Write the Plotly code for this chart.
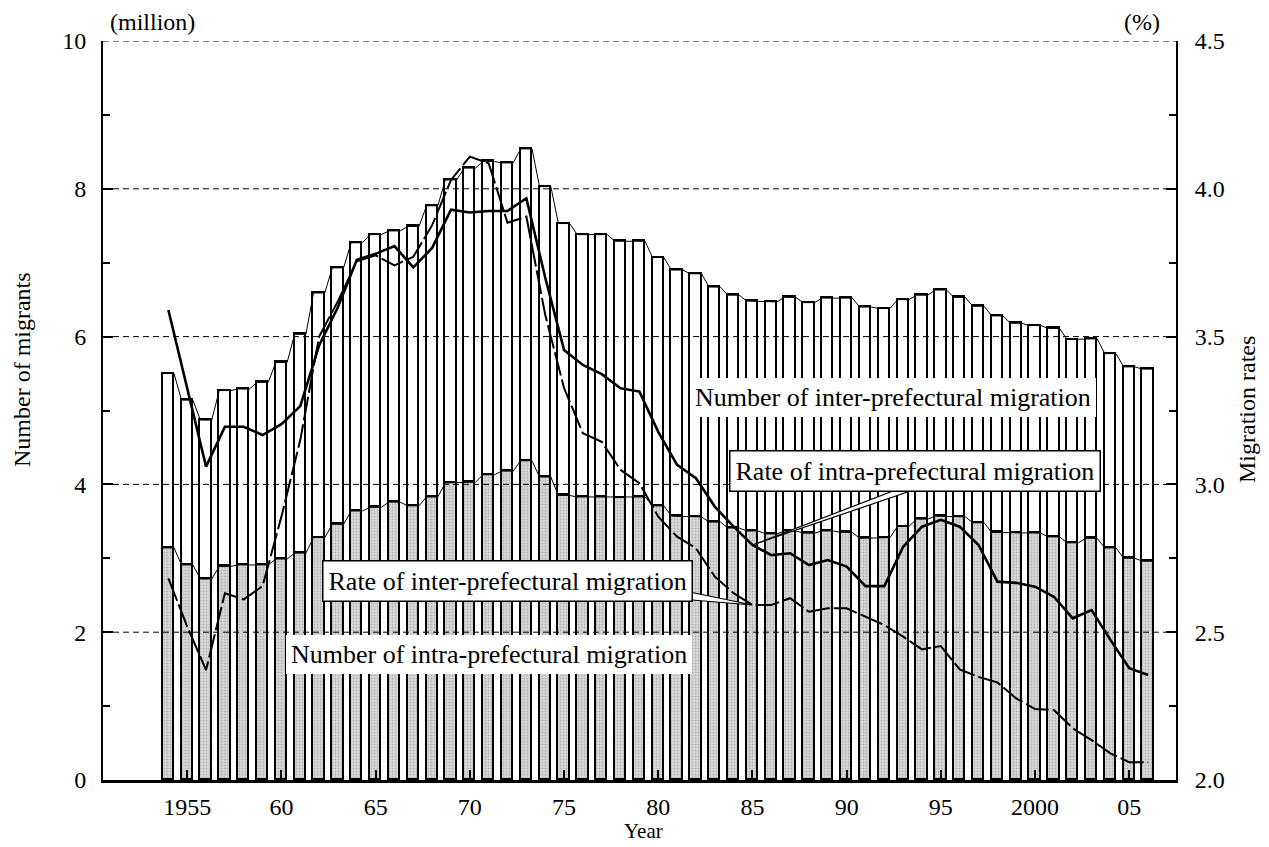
import plotly.graph_objects as go

# ---------------- data ----------------
years = list(range(1954, 2007))

# number of intra-prefectural migrants (million) - grey lower bars
intra_migrants = [3.14, 2.91, 2.72, 2.89, 2.91, 2.91, 2.99, 3.07, 3.28, 3.46,
                  3.64, 3.69, 3.76, 3.71, 3.83, 4.02, 4.03, 4.13, 4.18, 4.32,
                  4.10, 3.85, 3.83, 3.83, 3.82, 3.83, 3.71, 3.57, 3.56, 3.49,
                  3.41, 3.37, 3.33, 3.37, 3.34, 3.37, 3.35, 3.27, 3.28, 3.43,
                  3.53, 3.57, 3.56, 3.48, 3.35, 3.34, 3.34, 3.29, 3.21, 3.27,
                  3.14, 3.00, 2.96]

# number of inter-prefectural migrants (million) - white upper bars
inter_migrants = [2.36, 2.23, 2.15, 2.38, 2.38, 2.47, 2.66, 2.96, 3.31, 3.47,
                  3.63, 3.69, 3.67, 3.78, 3.94, 4.10, 4.25, 4.24, 4.17, 4.22,
                  3.93, 3.68, 3.55, 3.55, 3.47, 3.46, 3.36, 3.33, 3.29, 3.18,
                  3.15, 3.11, 3.14, 3.16, 3.12, 3.15, 3.17, 3.13, 3.10, 3.07,
                  3.03, 3.06, 2.97, 2.93, 2.93, 2.84, 2.81, 2.82, 2.75, 2.70,
                  2.63, 2.59, 2.60]

# rate of intra-prefectural migration (%) - solid line
intra_rate = [3.59, 3.33, 3.06, 3.195, 3.195, 3.167, 3.204, 3.265, 3.47, 3.60,
              3.76, 3.78, 3.806, 3.734, 3.80, 3.929, 3.92, 3.925, 3.925, 3.968,
              3.70, 3.455, 3.404, 3.373, 3.325, 3.314, 3.178, 3.066, 3.021, 2.925,
              2.857, 2.795, 2.761, 2.767, 2.727, 2.744, 2.722, 2.656, 2.656, 2.789,
              2.857, 2.880, 2.857, 2.795, 2.671, 2.667, 2.654, 2.62, 2.547, 2.575,
              2.474, 2.378, 2.355]

# rate of inter-prefectural migration (%) - dashed line
inter_rate = [2.682, 2.519, 2.372, 2.632, 2.611, 2.656, 2.891, 3.150, 3.50, 3.62,
              3.755, 3.775, 3.741, 3.77, 3.877, 4.03, 4.109, 4.086, 3.885, 3.906,
              3.574, 3.326, 3.173, 3.144, 3.049, 3.004, 2.891, 2.823, 2.784, 2.688,
              2.632, 2.592, 2.592, 2.615, 2.569, 2.581, 2.581, 2.553, 2.524, 2.485,
              2.442, 2.453, 2.374, 2.349, 2.33, 2.276, 2.240, 2.237, 2.175, 2.135,
              2.09, 2.06, 2.06]

x_tickvals = [1955, 1960, 1965, 1970, 1975, 1980, 1985, 1990, 1995, 2000, 2005]
x_ticktext = ["1955", "60", "65", "70", "75", "80", "85", "90", "95", "2000", "05"]
y_tickvals = [0, 2, 4, 6, 8, 10]
y2_tickvals = [2.0, 2.5, 3.0, 3.5, 4.0, 4.5]

# ---------------- layout constants ----------------
PAGE_OFF = 8                      # default body margin of the html page
W, H = 1269 - PAGE_OFF, 847 - PAGE_OFF
L, R, T, B = 103, 1176, 41, 780   # plot area in window pixels
XR = [1950.53, 2007.48]
YR = [0, 10]
Y2R = [2.0, 4.5]
BAR_W = 0.6
FONT = "Liberation Serif"


def px2x(px):
    return XR[0] + (px - L) / (R - L) * (XR[1] - XR[0])


def py2y2(py):
    return Y2R[0] + (B - py) / (B - T) * (Y2R[1] - Y2R[0])


def pxp(px):
    return (px - L) / (R - L)


def pyp(py):
    return (B - py) / (B - T)


fig = go.Figure()

fig.add_trace(go.Bar(
    x=years, y=intra_migrants, width=BAR_W, name="intra",
    marker=dict(color="#c9c9c9", line=dict(color="black", width=1.8),
                pattern=dict(shape=".", fgcolor="#8a8a8a", bgcolor="#d9d9d9",
                             size=3, solidity=0.3)),
    showlegend=False))
fig.add_trace(go.Bar(
    x=years, y=inter_migrants, width=BAR_W, name="inter",
    marker=dict(color="white", line=dict(color="black", width=1.8)),
    showlegend=False))

# thin "series lines" joining the bar tops
totals = [a + b for a, b in zip(intra_migrants, inter_migrants)]
for series in (intra_migrants, totals):
    sx, sy = [], []
    for yr, v in zip(years, series):
        sx += [yr - BAR_W / 2, yr + BAR_W / 2]
        sy += [v, v]
    fig.add_trace(go.Scatter(x=sx, y=sy, mode="lines",
                             line=dict(color="black", width=1),
                             hoverinfo="skip", showlegend=False))

fig.add_trace(go.Scatter(x=years, y=intra_rate, yaxis="y2", mode="lines",
                         line=dict(color="black", width=2.6), showlegend=False))
fig.add_trace(go.Scatter(x=years, y=inter_rate, yaxis="y2", mode="lines",
                         line=dict(color="black", width=2, dash="24px,4px"),
                         showlegend=False))

shapes = []
for v in [2, 4, 6, 8, 10]:
    shapes.append(dict(type="line", xref="paper", x0=0, x1=1, yref="y", y0=v, y1=v,
                       line=dict(color="black", width=1, dash="6px,4px"), layer="above"))

# callout wedges
i85 = years.index(1985)
tx, ty = 1985, intra_rate[i85]
bx1, bx2, by = px2x(906), px2x(925), py2y2(486)
shapes.append(dict(type="path", xref="x", yref="y2",
                   path=f"M {bx1},{by} L {tx},{ty} L {bx2},{by} Z",
                   fillcolor="white", line=dict(color="black", width=1.2), layer="above"))
tx, ty = 1985, inter_rate[i85]
bx, by1, by2 = px2x(680), py2y2(590), py2y2(599)
shapes.append(dict(type="path", xref="x", yref="y2",
                   path=f"M {bx},{by1} L {tx},{ty} L {bx},{by2} Z",
                   fillcolor="white", line=dict(color="black", width=1.2), layer="above"))

ann = []


def box(text, cx, cy, border):
    ann.append(dict(text=text, xref="paper", yref="paper", x=pxp(cx), y=pyp(cy),
                    xanchor="center", yanchor="middle", showarrow=False,
                    font=dict(family=FONT, size=26, color="black"),
                    bgcolor="white", bordercolor="black",
                    borderwidth=1.5 if border else 0, borderpad=5))


box("Number of inter-prefectural migration", 893, 397, False)
box("Rate of intra-prefectural migration", 915, 471, True)
box("Rate of inter-prefectural migration", 507, 581, True)
box("Number of intra-prefectural migration", 489, 654, False)


def label(text, cx, cy, angle=0, size=24):
    ann.append(dict(text=text, xref="paper", yref="paper", x=pxp(cx), y=pyp(cy),
                    xanchor="center", yanchor="middle", showarrow=False,
                    textangle=angle, font=dict(family=FONT, size=size, color="black")))


label("Number of migrants", 22, 370, -90)
label("Migration rates", 1247, 410, -90)
label("Year", 643, 831, size=21)
label("(million)", 152, 22)
label("(%)", 1142, 22)

tickfont = dict(family=FONT, size=24, color="black")
fig.update_layout(
    width=W, height=H,
    margin=dict(l=L - PAGE_OFF, r=W - (R - PAGE_OFF), t=T - PAGE_OFF,
                b=H - (B - PAGE_OFF), pad=0),
    font=dict(family=FONT, size=24, color="black"),
    paper_bgcolor="white", plot_bgcolor="white",
    barmode="stack", bargap=0,
    shapes=shapes, annotations=ann,
    xaxis=dict(range=XR, tickvals=x_tickvals, ticktext=x_ticktext,
               ticks="inside", ticklen=10, tickwidth=2, tickcolor="black",
               showline=True, linewidth=3, linecolor="black",
               showgrid=False, zeroline=False, tickfont=tickfont,
               ticklabelstandoff=3),
    yaxis=dict(range=YR, tickvals=y_tickvals, ticks="inside", ticklen=10,
               tickwidth=2, tickcolor="black",
               minor=dict(ticks="inside", ticklen=7, tickwidth=2, tickcolor="black",
                          tick0=1, dtick=2, showgrid=False),
               showline=True, linewidth=2, linecolor="black",
               showgrid=False, zeroline=False, tickfont=tickfont,
               ticklabelstandoff=10),
    yaxis2=dict(range=Y2R, overlaying="y", side="right", tickvals=y2_tickvals,
                tickformat=".1f", ticks="inside", ticklen=10, tickwidth=2,
                tickcolor="black",
                minor=dict(ticks="inside", ticklen=7, tickwidth=2, tickcolor="black",
                           tick0=2.25, dtick=0.5, showgrid=False),
                showline=True, linewidth=2, linecolor="black",
                showgrid=False, zeroline=False, tickfont=tickfont,
                ticklabelstandoff=12),
)

fig.write_html("out.html")
